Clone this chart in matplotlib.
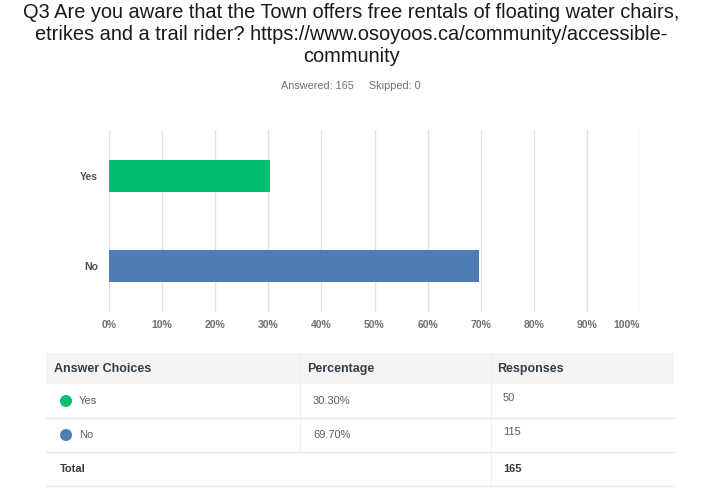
import matplotlib.pyplot as plt
import matplotlib.transforms as mtransforms
from matplotlib.patches import Rectangle, Circle

# data
choices = ['Yes', 'No']
percent = [30.30, 69.70]
responses = [50, 115]
answered = 165
skipped = 0
bar_colors = ['#00bf6f', '#507cb6']

title = ("Q3 Are you aware that the Town offers free rentals of floating water chairs,\n"
         "etrikes and a trail rider? https://www.osoyoos.ca/community/accessible-\n"
         "community")

plt.rcParams['font.family'] = ['Liberation Sans', 'DejaVu Sans']

fig = plt.figure(figsize=(7.02, 4.92), dpi=100)

# chart
ax = fig.add_axes([109/702, 1-312/492, 531/702, 182/492])
ypos = [1, 0]
ax.barh(ypos, percent, height=0.352, color=bar_colors, zorder=3)
ax.set_xlim(0, 100)
ax.set_ylim(-0.51, 1.51)
ax.set_xticks(range(0, 101, 10))
ax.set_xticklabels([f'{t}%' for t in range(0, 101, 10)], fontsize=7.5,
                   color='#6b7079', fontweight='bold')
ax.set_yticks(ypos)
ax.set_yticklabels(choices, fontsize=7.5, color='#4a4f57', fontweight='bold')
ax.tick_params(length=0, pad=8)
ax.tick_params(axis='x', pad=6)
# 100% label sits a bit left of its gridline in the original
lab = ax.get_xticklabels()[-1]
lab.set_transform(lab.get_transform() + mtransforms.ScaledTranslation(-0.13, 0, fig.dpi_scale_trans))
ax.grid(axis='x', color='#e2e2e2', linewidth=1, zorder=0)
for s in ax.spines.values():
    s.set_visible(False)

fig.text(0.5, 1-3/492, title, ha='center', va='top', fontsize=14.4,
         color='#1a1a1a', linespacing=1.2)
fig.text(0.5, 1-86/492, f'Answered: {answered}     Skipped: {skipped}',
         ha='center', va='center', fontsize=7.8, color='#6b7079')

# table drawn in pixel coordinates
tb = fig.add_axes([0, 0, 1, 1])
tb.set_xlim(0, 702)
tb.set_ylim(492, 0)
tb.axis('off')

left, right = 46, 674
tb.add_patch(Rectangle((left, 353), right-left, 31, color='#f4f4f4', lw=0))
head_y = 369
tb.text(54, head_y, 'Answer Choices', fontsize=9, fontweight='bold', color='#333e48', va='center')
tb.text(307, head_y, 'Percentage', fontsize=9, fontweight='bold', color='#333e48', va='center')
tb.text(497, head_y, 'Responses', fontsize=9, fontweight='bold', color='#333e48', va='center')

row_top = 384
row_h = 34
for i, (c, p, r) in enumerate(zip(choices, percent, responses)):
    y0 = row_top + i*row_h
    yc = y0 + row_h/2
    tb.add_patch(Circle((66, yc), 6, color=bar_colors[i], lw=0))
    tb.text(79, yc, c, fontsize=8, color='#555d66', va='center')
    tb.text(313, yc, f'{p:.2f}%', fontsize=8, color='#555d66', va='center')
    tb.text(503, yc - 3, str(r), fontsize=8, color='#555d66', va='center')
    tb.plot([left, right], [y0 + row_h, y0 + row_h], color='#e8e8e8', lw=1)

# column dividers
tb.plot([300, 300], [353, row_top + 2*row_h], color='#f0f0f0', lw=0.8)
tb.plot([491, 491], [353, 486], color='#f0f0f0', lw=0.8)

ty = row_top + 2*row_h + row_h/2
tb.text(60, ty, 'Total', fontsize=8, fontweight='bold', color='#333e48', va='center')
tb.text(503, ty, str(sum(responses)), fontsize=8, fontweight='bold', color='#333e48', va='center')
tb.plot([left, right], [486, 486], color='#e8e8e8', lw=1)

fig.savefig('out.png', dpi=100)
